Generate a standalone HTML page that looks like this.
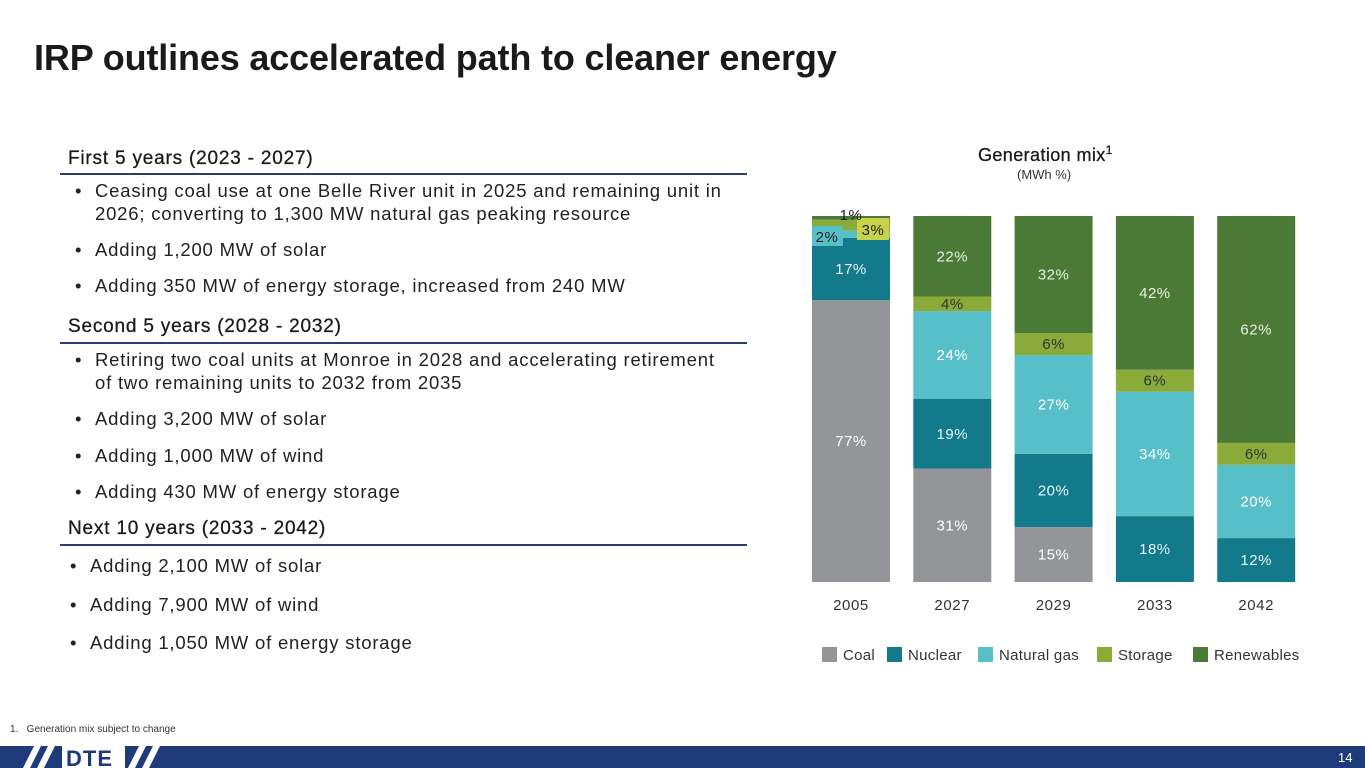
<!DOCTYPE html>
<html><head><meta charset="utf-8"><style>
body{margin:0;width:1365px;height:768px;position:relative;background:#fff;font-family:"Liberation Sans",sans-serif;overflow:hidden;color:#222}
.abs{position:absolute}
h1{position:absolute;left:34px;top:37px;margin:0;font-size:36px;font-weight:bold;color:#1a1a1a;letter-spacing:-0.15px;white-space:nowrap}
.hd{position:absolute;left:68px;font-size:19px;letter-spacing:0.8px;color:#1a1a1a;white-space:nowrap;-webkit-text-stroke:0.3px #1a1a1a}
.rule{position:absolute;left:60px;width:687px;height:1.5px;background:#2a3f6e}
.bl{position:absolute;left:75px;font-size:18.5px;letter-spacing:0.8px;color:#222;line-height:23px;white-space:nowrap}
.bl span{position:absolute;left:0}
.bl div{margin-left:20px}
</style></head><body>
<h1>IRP outlines accelerated path to cleaner energy</h1>

<div class="hd" style="top:148px">First 5 years (2023 - 2027)</div>
<div class="rule" style="top:173px"></div>
<div class="bl" style="top:179px"><span>•</span><div>Ceasing coal use at one Belle River unit in 2025 and remaining unit in<br>2026; converting to 1,300 MW natural gas peaking resource</div></div>
<div class="bl" style="top:238px"><span>•</span><div>Adding 1,200 MW of solar</div></div>
<div class="bl" style="top:274px"><span>•</span><div>Adding 350 MW of energy storage, increased from 240 MW</div></div>

<div class="hd" style="top:316px">Second 5 years (2028 - 2032)</div>
<div class="rule" style="top:342px"></div>
<div class="bl" style="top:348px"><span>•</span><div>Retiring two coal units at Monroe in 2028 and accelerating retirement<br>of two remaining units to 2032 from 2035</div></div>
<div class="bl" style="top:407px"><span>•</span><div>Adding 3,200 MW of solar</div></div>
<div class="bl" style="top:444px"><span>•</span><div>Adding 1,000 MW of wind</div></div>
<div class="bl" style="top:480px"><span>•</span><div>Adding 430 MW of energy storage</div></div>

<div class="hd" style="top:518px">Next 10 years (2033 - 2042)</div>
<div class="rule" style="top:544px"></div>
<div class="bl" style="top:554px;left:70px"><span>•</span><div>Adding 2,100 MW of solar</div></div>
<div class="bl" style="top:593px;left:70px"><span>•</span><div>Adding 7,900 MW of wind</div></div>
<div class="bl" style="top:631px;left:70px"><span>•</span><div>Adding 1,050 MW of energy storage</div></div>

<div class="abs" style="left:978px;top:143px;font-size:18px;letter-spacing:0.4px;color:#1a1a1a;-webkit-text-stroke:0.3px #1a1a1a">Generation mix<sup style="font-size:12px">1</sup></div>
<div class="abs" style="left:1017px;top:167px;font-size:13px;color:#333">(MWh %)</div>

<svg class="abs" style="left:0;top:0" width="1365" height="768" id="chart"></svg>

<div class="abs" style="left:10px;top:724px;font-size:10px;color:#333">1.&nbsp;&nbsp;&nbsp;Generation mix subject to change</div>

<svg class="abs" style="left:0;top:746px" width="1365" height="22">
<rect x="0" y="0" width="1365" height="22" fill="#1f3a78"/>
<polygon points="23,22 34,0 41,0 30,22" fill="#fff"/>
<polygon points="37,22 48,0 55,0 44,22" fill="#fff"/>
<rect x="62" y="0" width="63" height="22" fill="#fff"/>
<polygon points="128,22 139,0 146,0 135,22" fill="#fff"/>
<polygon points="142,22 153,0 160,0 149,22" fill="#fff"/>
<text x="66" y="20" font-size="22" font-weight="bold" fill="#1f3a78" font-family="Liberation Sans" letter-spacing="1">DTE</text>
<text x="1338" y="16" font-size="13" fill="#fff" font-family="Liberation Sans">14</text>
</svg>

<script>
const categories=["2005","2027","2029","2033","2042"];
const seriesNames=["Coal","Nuclear","Natural gas","Storage","Renewables"];
const coal=[77,31,15,0,0];
const nuclear=[17,19,20,18,12];
const gas=[2,24,27,34,20];
const storage=[3,4,6,6,6];
const renewables=[1,22,32,42,62];
const series=[coal,nuclear,gas,storage,renewables];
const colors=["#939598","#137a8c","#56bfc8","#8aab3a","#4a7a35"];
const labelColors=["#fff","#e8f4f6","#fff","#333","#e8f0e0"];
const svg=document.getElementById('chart');
const NS="http://www.w3.org/2000/svg";
const x0=812,step=101.3,bw=78,yb=582,ph=366;
const xs=i=>x0+i*step;
const ys=v=>yb-v/100*ph;
function mk(t,a){const e=document.createElementNS(NS,t);for(const k in a)e.setAttribute(k,a[k]);svg.appendChild(e);return e;}
const labels=[];
categories.forEach((c,i)=>{
  let cum=0;
  series.forEach((s,j)=>{
    const v=s[i]; if(!v)return;
    const r=mk('rect',{x:xs(i),y:ys(cum+v),width:bw,height:ys(cum)-ys(cum+v),fill:colors[j]});
    
    
    labels.push([i,j,v,cum]);
    cum+=v;
  });
  const t=mk('text',{x:xs(i)+bw/2,y:610,'text-anchor':'middle','font-size':15,'letter-spacing':0.6,fill:'#333','font-family':'Liberation Sans'});
  t.textContent=c;
  
  
});
labels.forEach(([i,j,v,cum])=>{
  const small=v<4&&i==0;
  let lx=xs(i)+bw/2, ly=(ys(cum)+ys(cum+v))/2+5, fill=labelColors[j];
  if(small){
    if(j==2){mk('rect',{x:xs(i),y:226,width:31,height:20,fill:colors[2]});lx=xs(i)+15;ly=242;fill="#222";}
    if(j==3){mk('rect',{x:xs(i)+45,y:218,width:32,height:22,fill:"#c9d24a"});lx=xs(i)+61;ly=235;fill="#222";}
    if(j==4){lx=xs(i)+39;ly=220;fill="#222";}
  }
  const t=mk('text',{x:lx,y:ly,'text-anchor':'middle','font-size':15,'letter-spacing':0.5,fill:fill,'font-family':'Liberation Sans'});
  t.textContent=v+'%';
  
  
});
const legX=[822,887,978,1097,1193];
seriesNames.forEach((n,j)=>{
  const r=mk('rect',{x:legX[j],y:647,width:15,height:15,fill:colors[j]});
  
  
  const t=mk('text',{x:legX[j]+21,y:660,'font-size':15,'letter-spacing':0.3,fill:'#333','font-family':'Liberation Sans'});
  t.textContent=n;
  
  
});
</script>
</body></html>
